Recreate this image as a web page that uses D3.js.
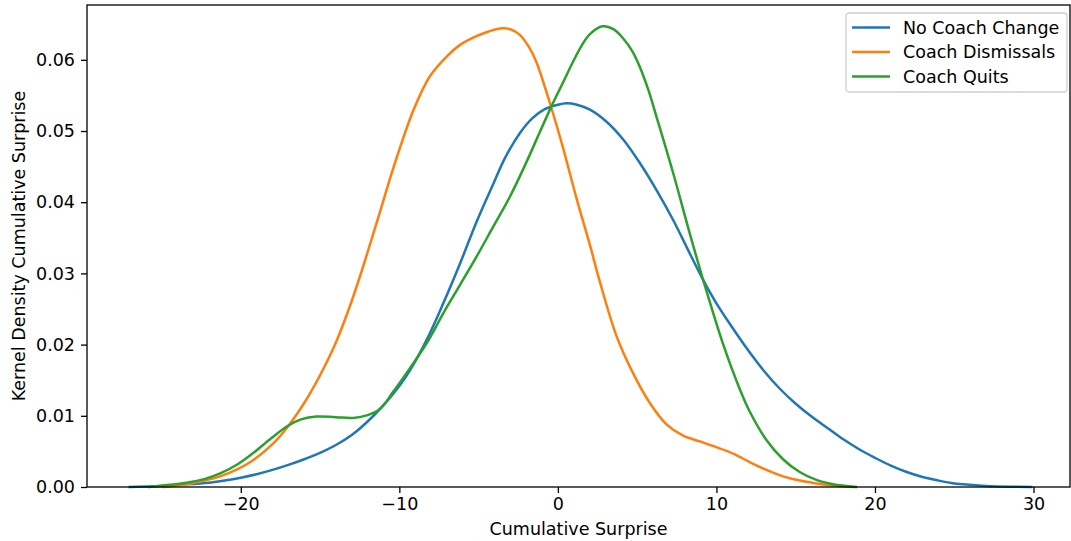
<!DOCTYPE html>
<html>
<head>
<meta charset="utf-8">
<script src="https://cdn.jsdelivr.net/npm/d3@7"></script>
<style>
  body { margin: 0; background: #fff; }
  text { font-family: "DejaVu Sans", sans-serif; fill: #000; }
</style>
</head>
<body>
<div id="chart-area"></div>
<script>
//============================DATA============================
var seriesNames = ["No Coach Change", "Coach Dismissals", "Coach Quits"];
var seriesColors = ["#1f77b4", "#ff7f0e", "#2ca02c"];

// kde curves: [cumulative surprise, density]
var noCoachChange = [[-27,0],[-25.5,0.0001],[-24,0.0003],[-22,0.0006],[-21,0.0009],[-20,0.0013],
    [-19,0.0018],[-18,0.0024],[-17,0.0031],[-16,0.0039],[-15,0.0048],[-14,0.0059],[-13,0.0073],
    [-12,0.0092],[-11,0.0115],[-10,0.0142],[-9.33,0.0164],[-8.27,0.0207],[-7.23,0.0258],[-6.17,0.0314],
    [-5.12,0.0373],[-4.07,0.0426],[-3.34,0.0462],[-2.4,0.0497],[-1.6,0.0518],[-0.8,0.0531],[0,0.0537],
    [0.55,0.0539],[1.2,0.0537],[2.02,0.053],[3.07,0.0513],[4.12,0.0488],[5.17,0.0455],
    [6.22,0.0417],[7.27,0.0375],[8.32,0.0328],[9.16,0.0291],[10,0.0258],[11,0.0224],[12,0.0192],
    [13,0.0163],[14,0.0138],[15,0.0117],[16,0.0099],[17,0.0083],[18,0.0067],[19,0.0053],[20,0.0041],
    [21,0.003],[22,0.0021],[23,0.0014],[24,0.0009],[25,0.0005],[26,0.0003],[27,0.00015],[28.5,0.00004],
    [29.85,0]];

var coachDismissals = [[-24.9,0],[-23.4,0.0004],[-22.3,0.0009],[-21.3,0.0015],[-20.2,0.0025],
    [-19.2,0.0038],[-18.1,0.0058],[-17.1,0.0083],[-16,0.0118],[-15,0.0157],[-14,0.0203],[-13.2,0.0249],
    [-12.48,0.0296],[-11.2,0.0388],[-10.38,0.0448],[-9.1,0.053],[-8.07,0.0577],[-7.0,0.0605],
    [-6.17,0.0621],[-5.54,0.0629],[-4.6,0.0638],[-3.65,0.0644],[-3.0,0.0643],[-2.4,0.0635],
    [-1.8,0.0617],[-1.34,0.0596],[-0.5,0.0539],[0.33,0.0476],[1.18,0.0405],[2.02,0.034],[2.65,0.0288],
    [3.7,0.0212],[4.74,0.016],[5.8,0.0118],[6.85,0.0088],[7.9,0.0072],[8.95,0.0064],[10,0.0056],
    [11.05,0.0047],[12.1,0.0035],[13.15,0.0024],[14.2,0.0015],[15.25,0.0009],[16.3,0.0005],
    [17.35,0.0002],[18.6,0]];

var coachQuits = [[-25.8,0],[-24.5,0.0003],[-23.4,0.0006],[-22.3,0.0011],[-21.3,0.0019],[-20.2,0.0032],
    [-19.2,0.0048],[-18.1,0.0068],[-17.1,0.0085],[-16.2,0.0095],[-15.2,0.0099],[-14,0.0098],
    [-12.9,0.0097],[-12,0.0101],[-11.2,0.011],[-10.38,0.0134],[-9.33,0.0167],[-8.27,0.0202],
    [-7.23,0.0244],[-6.17,0.0284],[-5.12,0.0324],[-4.07,0.0366],[-3.02,0.0408],[-1.97,0.0457],
    [-1.13,0.0499],[-0.4,0.0535],[0.3,0.0567],[0.97,0.0598],[1.5,0.062],[2.02,0.0636],[2.81,0.0647],
    [3.5,0.0643],[4.12,0.063],[4.7,0.0612],[5.17,0.059],[5.7,0.0558],[6.22,0.052],[7.27,0.0441],
    [8.32,0.0356],[9.16,0.0291],[10.4,0.0202],[11.5,0.0136],[12.1,0.0106],[13.15,0.0066],[14.2,0.0039],
    [15.25,0.0021],[16.3,0.001],[17.35,0.0004],[18.8,0]];

var xTicks = [-20, -10, 0, 10, 20, 30];
var yTicks = [0, 0.01, 0.02, 0.03, 0.04, 0.05, 0.06];

var allSeries = [noCoachChange, coachDismissals, coachQuits];

//============================LAYOUT============================
var margins = { left: 87, right: 1, top: 5, bottom: 54 };
var width = 1071 - margins.left - margins.right;
var height = 541 - margins.top - margins.bottom;
var fontSize = 17.5;

var svg = d3.select("#chart-area")
    .append("svg")
    .attr("width", 1071)
    .attr("height", 541);

var g = svg.append("g")
    .attr("transform", "translate(" + margins.left + ", " + margins.top + ")");

//============================SCALES============================
var x = d3.scaleLinear()
    .domain([-29.7, 32.3])
    .range([0, width]);

var y = d3.scaleLinear()
    .domain([0, 0.0677])
    .range([height, 0]);

//============================AXES============================
var minusFmt = function(d){ return String(d).replace("-", "\u2212"); };

var xAxisCall = d3.axisBottom(x)
    .tickValues(xTicks)
    .tickSize(6)
    .tickPadding(5)
    .tickFormat(minusFmt);
var xAxis = g.append("g")
    .attr("transform", "translate(0, " + height + ")")
    .call(xAxisCall);

var yAxisCall = d3.axisLeft(y)
    .tickValues(yTicks)
    .tickSize(6)
    .tickPadding(6)
    .tickFormat(d3.format(".2f"));
var yAxis = g.append("g")
    .call(yAxisCall);

[xAxis, yAxis].forEach(function(a){
    a.select(".domain").remove();
    a.selectAll(".tick line").attr("stroke", "#000").attr("stroke-width", 1.3);
    a.selectAll(".tick text")
        .attr("font-size", fontSize)
        .attr("font-family", "DejaVu Sans")
        .attr("fill", "#000");
});

//axis labels
g.append("text")
    .attr("x", width / 2)
    .attr("y", height + 48)
    .attr("font-size", fontSize)
    .attr("text-anchor", "middle")
    .text("Cumulative Surprise");

g.append("text")
    .attr("x", -height / 2)
    .attr("y", -62)
    .attr("font-size", fontSize)
    .attr("text-anchor", "middle")
    .attr("transform", "rotate(-90)")
    .text("Kernel Density Cumulative Surprise");

//============================CURVES============================
var line = d3.line()
    .x(function(d){ return x(d[0]); })
    .y(function(d){ return y(d[1]); })
    .curve(d3.curveCatmullRom.alpha(0.5));

g.selectAll("path.kde")
    .data(allSeries)
    .enter()
    .append("path")
    .attr("class", "kde")
    .attr("d", line)
    .attr("fill", "none")
    .attr("stroke", function(d, i){ return seriesColors[i]; })
    .attr("stroke-width", 2.5)
    .attr("stroke-linejoin", "round")
    .attr("stroke-linecap", "square");

//frame (all four spines)
g.append("rect")
    .attr("width", width)
    .attr("height", height)
    .attr("fill", "none")
    .attr("stroke", "#000")
    .attr("stroke-width", 1.3);

//============================LEGEND============================
var legend = g.append("g")
    .attr("transform", "translate(" + (846 - margins.left) + ", " + (13 - margins.top) + ")");

legend.append("rect")
    .attr("width", 221)
    .attr("height", 79)
    .attr("rx", 3)
    .attr("fill", "#fff")
    .attr("fill-opacity", 0.8)
    .attr("stroke", "#d0d0d0")
    .attr("stroke-width", 1.3);

var items = legend.selectAll("g.item")
    .data(seriesNames)
    .enter()
    .append("g")
    .attr("class", "item")
    .attr("transform", function(d, i){ return "translate(0, " + (14.5 + i * 24.5) + ")"; });

items.append("line")
    .attr("x1", 6)
    .attr("x2", 44)
    .attr("stroke", function(d, i){ return seriesColors[i]; })
    .attr("stroke-width", 2.5);

items.append("text")
    .attr("x", 57)
    .attr("dy", "0.36em")
    .attr("font-size", fontSize)
    .text(function(d){ return d; });
</script>
</body>
</html>
